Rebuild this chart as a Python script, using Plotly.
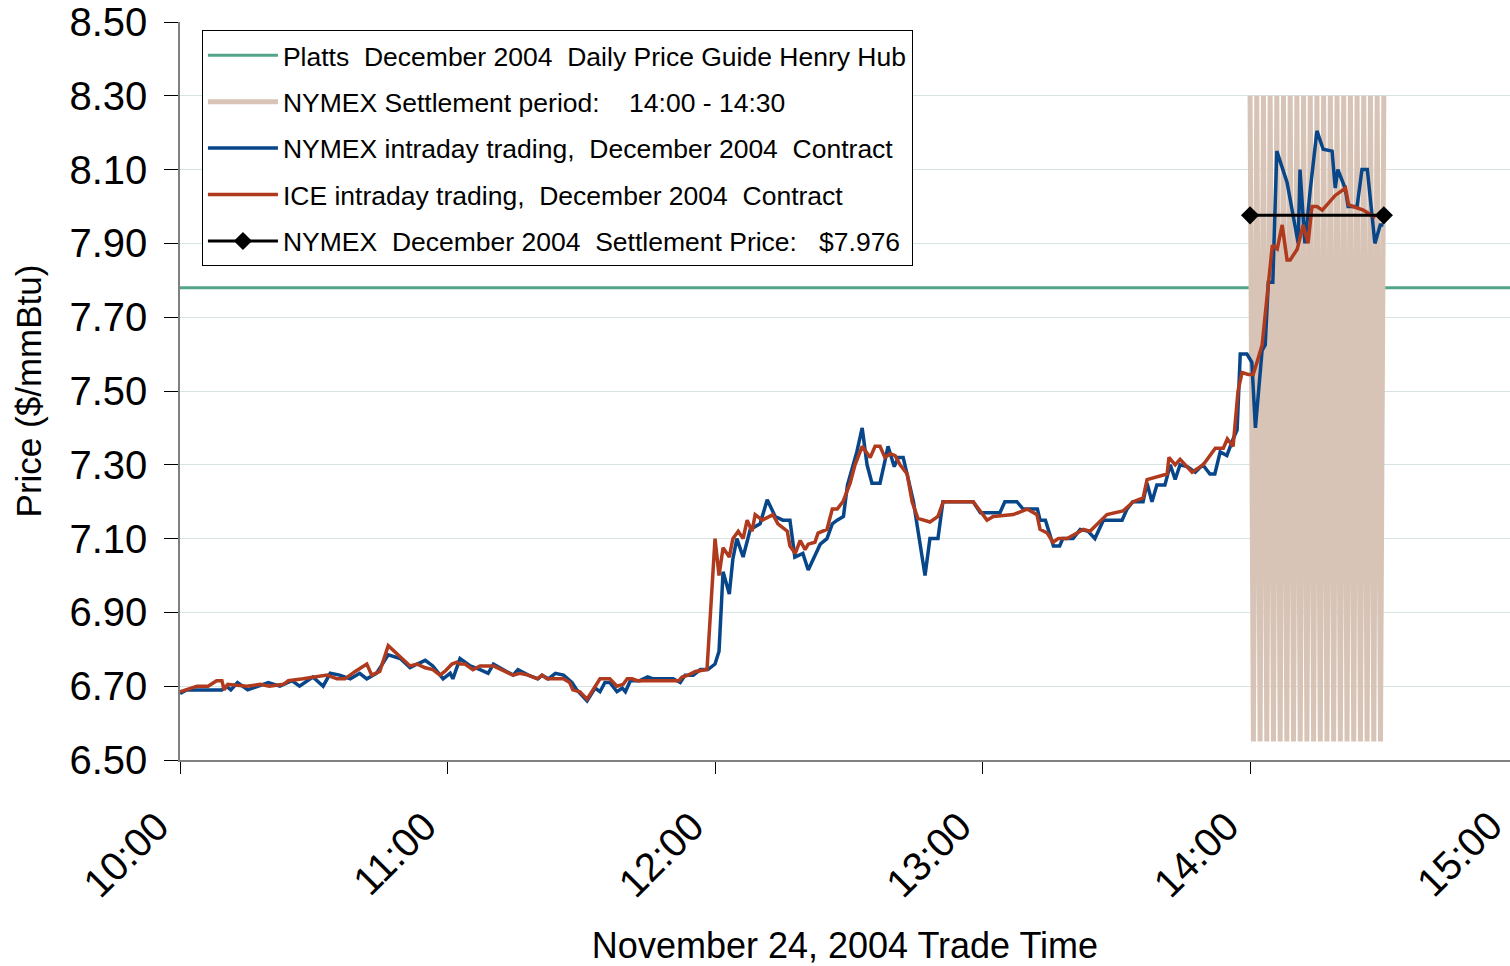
import plotly.graph_objects as go

FONT = "Arial, 'Liberation Sans', sans-serif"

# x values are minutes after 10:00 on November 24, 2004
tick_minutes = [0, 60, 120, 180, 240, 300]
tick_labels = ["10:00", "11:00", "12:00", "13:00", "14:00", "15:00"]
y_ticks = [6.50, 6.70, 6.90, 7.10, 7.30, 7.50, 7.70, 7.90, 8.10, 8.30, 8.50]

platts_times = [0, 300]
platts_price = [7.78, 7.78]

settle_period_times = [240.0, 240.75, 241.5, 242.25, 243.0, 243.75, 244.5, 245.25, 246.0, 246.75,
                       247.5, 248.25, 249.0, 249.75, 250.5, 251.25, 252.0, 252.75, 253.5, 254.25,
                       255.0, 255.75, 256.5, 257.25, 258.0, 258.75, 259.5, 260.25, 261.0, 261.75,
                       262.5, 263.25, 264.0, 264.75, 265.5, 266.25, 267.0, 267.75, 268.5, 269.25, 270.0]
settle_period_price = [8.30, 6.55, 8.30, 6.55, 8.30, 6.55, 8.30, 6.55, 8.30, 6.55,
                       8.30, 6.55, 8.30, 6.55, 8.30, 6.55, 8.30, 6.55, 8.30, 6.55,
                       8.30, 6.55, 8.30, 6.55, 8.30, 6.55, 8.30, 6.55, 8.30, 6.55,
                       8.30, 6.55, 8.30, 6.55, 8.30, 6.55, 8.30, 6.55, 8.30, 6.55, 8.30]

nymex_times = [0, 1.5, 9.4, 10.4, 11.4, 12.9, 15.2, 17.3, 19.8, 22.4,
               25.1, 26.8, 29.8, 32.1, 33.7, 35.8, 38.2, 40.3, 41.9, 44.1,
               46.7, 49.4, 51.6, 53.2, 55.0, 56.7, 59.0, 60.6, 61.2, 62.8,
               65.1, 67.3, 69.1, 70.3, 72.4, 74.7, 75.8, 78.1, 80.3, 81.2,
               82.6, 84.2, 86.0, 87.9, 89.0, 91.3, 93.1, 94.2, 95.3, 96.4,
               98.0, 99.2, 99.9, 101.0, 103.1, 104.9, 106.1, 110.6, 112.2, 113.3,
               115.1, 116.7, 118.4, 120.0, 120.9, 121.8, 123.2, 124.0, 124.9, 126.3,
               127.9, 130.1, 131.7, 133.5, 135.2, 136.8, 137.9, 139.7, 140.9, 143.6,
               145.1, 146.3, 147.4, 148.8, 149.7, 151.8, 153.0, 154.1, 155.2, 157.0,
               158.1, 158.8, 160.2, 161.1, 162.2, 163.1, 164.5, 167.1, 168.2, 170.0,
               171.1, 177.9, 179.5, 183.9, 185.0, 187.7, 189.1, 192.3, 192.9, 194.1,
               195.9, 197.3, 198.0, 200.3, 201.9, 203.7, 205.2, 207.1, 211.3, 212.4,
               213.7, 216.0, 216.9, 218.0, 219.1, 220.9, 222.1, 223.2, 224.3, 225.9,
               227.7, 229.4, 231.0, 232.1, 233.3, 234.8, 235.5, 236.2, 237.1, 237.8,
               239.3, 240.4, 241.2, 242.7, 243.4, 244.1, 245.1, 246.0, 248.3, 249.4,
               250.8, 251.2, 252.3, 253.5, 255.0, 256.4, 258.4, 259.1, 259.7, 261.3,
               262.0, 264.0, 265.1, 266.3, 268.0, 269.2, 269.9]
nymex_price = [6.68, 6.69, 6.69, 6.70, 6.69, 6.71, 6.69, 6.70, 6.71, 6.70,
               6.715, 6.70, 6.725, 6.70, 6.735, 6.73, 6.72, 6.735, 6.72, 6.735,
               6.785, 6.775, 6.75, 6.76, 6.77, 6.755, 6.72, 6.735, 6.72, 6.775,
               6.755, 6.745, 6.735, 6.76, 6.745, 6.73, 6.745, 6.73, 6.72, 6.73,
               6.72, 6.735, 6.73, 6.71, 6.69, 6.66, 6.695, 6.685, 6.71, 6.71,
               6.685, 6.695, 6.685, 6.715, 6.715, 6.725, 6.72, 6.72, 6.71, 6.73,
               6.73, 6.745, 6.745, 6.76, 6.795, 7.01, 6.95, 7.045, 7.10, 7.05,
               7.125, 7.14, 7.205, 7.16, 7.15, 7.15, 7.05, 7.06, 7.015, 7.085,
               7.10, 7.14, 7.15, 7.16, 7.245, 7.335, 7.40, 7.30, 7.25, 7.25,
               7.31, 7.35, 7.295, 7.32, 7.32, 7.275, 7.20, 7.00, 7.10, 7.10,
               7.20, 7.20, 7.17, 7.17, 7.20, 7.20, 7.18, 7.18, 7.15, 7.15,
               7.08, 7.08, 7.10, 7.10, 7.125, 7.12, 7.10, 7.15, 7.15, 7.18,
               7.20, 7.20, 7.25, 7.20, 7.245, 7.245, 7.30, 7.26, 7.30, 7.295,
               7.28, 7.30, 7.275, 7.275, 7.335, 7.325, 7.35, 7.37, 7.395, 7.60,
               7.60, 7.578, 7.40, 7.61, 7.625, 7.795, 7.795, 8.15, 8.065, 7.99,
               7.90, 8.10, 7.90, 8.045, 8.205, 8.155, 8.15, 8.05, 8.10, 8.05,
               8.00, 8.00, 8.10, 8.10, 7.90, 7.95, 7.95]

ice_times = [0, 3.8, 6.3, 8.2, 9.4, 9.9, 10.7, 15.0, 18.0, 20.0,
             23.2, 24.3, 27.6, 30.7, 33.0, 35.2, 37.0, 39.3, 41.9, 43.0,
             44.8, 46.7, 49.4, 51.6, 53.2, 55.0, 56.7, 58.3, 59.4, 61.0,
             62.1, 62.8, 63.9, 65.7, 67.3, 70.3, 72.9, 74.7, 76.2, 78.1,
             80.1, 81.2, 82.3, 86.0, 87.4, 88.1, 89.7, 91.3, 94.2, 96.4,
             98.0, 99.4, 100.3, 101.4, 102.6, 110.6, 111.9, 112.6, 114.0, 115.6,
             118.2, 120.0, 120.9, 121.8, 123.2, 124.0, 125.2, 126.3, 127.2, 128.3,
             129.0, 130.6, 133.0, 134.1, 136.2, 136.8, 138.0, 139.1, 140.2, 140.9,
             142.4, 143.1, 145.1, 146.3, 147.4, 148.7, 150.3, 151.4, 153.0, 154.8,
             155.9, 157.0, 158.1, 159.3, 160.4, 161.5, 163.1, 164.2, 165.5, 168.2,
             170.0, 171.2, 177.9, 181.0, 182.4, 186.9, 190.0, 192.2, 192.9, 194.5,
             195.8, 197.0, 199.0, 201.9, 202.6, 204.1, 207.9, 211.5, 213.8, 216.0,
             216.9, 221.4, 221.8, 223.2, 224.3, 227.0, 229.5, 232.2, 234.0, 234.9,
             236.2, 237.3, 238.2, 239.6, 240.7, 241.6, 242.7, 245.0, 246.1, 247.2,
             248.3, 249.0, 250.6, 251.9, 253.0, 253.9, 255.0, 256.2, 259.1, 261.4,
             262.1, 263.1, 265.4, 268.1]
ice_price = [6.685, 6.70, 6.70, 6.715, 6.715, 6.69, 6.705, 6.70, 6.705, 6.70,
             6.705, 6.715, 6.72, 6.725, 6.73, 6.72, 6.72, 6.74, 6.76, 6.73,
             6.74, 6.81, 6.78, 6.755, 6.76, 6.75, 6.745, 6.73, 6.74, 6.76,
             6.765, 6.76, 6.76, 6.745, 6.755, 6.755, 6.74, 6.73, 6.735, 6.73,
             6.72, 6.73, 6.72, 6.72, 6.71, 6.69, 6.685, 6.665, 6.72, 6.72,
             6.70, 6.705, 6.72, 6.72, 6.715, 6.715, 6.715, 6.725, 6.73, 6.74,
             6.745, 7.10, 7.00, 7.075, 7.05, 7.10, 7.12, 7.10, 7.15, 7.12,
             7.165, 7.15, 7.165, 7.14, 7.12, 7.08, 7.06, 7.095, 7.07, 7.085,
             7.09, 7.115, 7.125, 7.18, 7.18, 7.20, 7.25, 7.30, 7.35, 7.32,
             7.35, 7.35, 7.32, 7.33, 7.325, 7.30, 7.275, 7.20, 7.155, 7.145,
             7.16, 7.20, 7.20, 7.15, 7.16, 7.165, 7.18, 7.165, 7.125, 7.115,
             7.09, 7.10, 7.10, 7.12, 7.125, 7.12, 7.165, 7.175, 7.20, 7.21,
             7.26, 7.275, 7.32, 7.30, 7.315, 7.28, 7.30, 7.345, 7.345, 7.37,
             7.35, 7.50, 7.55, 7.545, 7.545, 7.58, 7.625, 7.895, 7.885, 7.95,
             7.855, 7.855, 7.885, 7.95, 7.90, 8.00, 8.00, 7.99, 8.03, 8.05,
             8.005, 8.00, 7.99, 7.97]

settle_times = [240, 270]
settle_price = [7.976, 7.976]

assert len(nymex_times) == len(nymex_price)
assert len(ice_times) == len(ice_price)
assert len(settle_period_times) == len(settle_period_price)

NB = "\u00a0"
names = [
    "Platts" + NB + " December 2004" + NB + " Daily Price Guide Henry Hub",
    "NYMEX Settlement period:" + NB * 3 + " 14:00 - 14:30",
    "NYMEX intraday trading," + NB + " December 2004" + NB + " Contract",
    "ICE intraday trading," + NB + " December 2004" + NB + " Contract",
    "NYMEX" + NB + " December 2004" + NB + " Settlement Price:" + NB * 2 + " $7.976",
]

fig = go.Figure()
fig.add_trace(go.Scatter(x=platts_times, y=platts_price, mode="lines", name=names[0],
                         legendgroup="a", line=dict(color="#52a587", width=3)))
fig.add_trace(go.Scatter(x=settle_period_times, y=settle_period_price, mode="lines", name=names[1],
                         legendgroup="b", line=dict(color="#d8c4b6", width=5)))
fig.add_trace(go.Scatter(x=nymex_times, y=nymex_price, mode="lines", name=names[2],
                         legendgroup="c", line=dict(color="#08468a", width=3.5)))
fig.add_trace(go.Scatter(x=ice_times, y=ice_price, mode="lines", name=names[3],
                         legendgroup="d", line=dict(color="#b03a1e", width=3.5)))
fig.add_trace(go.Scatter(x=settle_times, y=settle_price, mode="lines+markers", name=names[4],
                         legendgroup="e", line=dict(color="black", width=3),
                         marker=dict(symbol="diamond", size=14, color="black")))

# the 15:00 tick sits just beyond the right edge of the picture; its label is still shown
fig.add_annotation(x=0.9615, y=-0.1267, xref="paper", yref="paper", text=tick_labels[-1],
                   textangle=-45, showarrow=False, xanchor="center", yanchor="middle",
                   font=dict(size=40, family=FONT, color="black"))

fig.update_layout(
    width=1510, height=966,
    margin=dict(l=180, r=0, t=19, b=205),
    paper_bgcolor="white", plot_bgcolor="white",
    font=dict(family=FONT, color="black"),
    showlegend=True,
    legend=dict(x=0.0165, y=0.9885, xanchor="left", yanchor="top",
                bgcolor="white", bordercolor="black", borderwidth=1,
                font=dict(family=FONT, size=26.5, color="black"),
                tracegroupgap=9, itemwidth=70, traceorder="grouped"),
    xaxis=dict(range=[0, 298.3], tickmode="array", tickvals=tick_minutes, ticktext=tick_labels,
               tickangle=-45, tickfont=dict(size=40, family=FONT, color="black"),
               ticks="outside", ticklen=12, tickcolor="black", tickwidth=1,
               ticklabelshift=-23, ticklabelstandoff=13,
               showline=True, linecolor="#808080", linewidth=1.5, showgrid=False, zeroline=False,
               title=dict(text="November 24, 2004 Trade Time", font=dict(size=36, family=FONT),
                          standoff=35)),
    yaxis=dict(range=[6.5, 8.5], tickmode="array", tickvals=y_ticks,
               ticktext=["%.2f" % v for v in y_ticks], ticklabeloverflow="allow",
               tickfont=dict(size=40, family=FONT, color="black"),
               ticks="outside", ticklen=14, tickcolor="black", tickwidth=1, ticklabelstandoff=9,
               showline=True, linecolor="#808080", linewidth=1.5,
               showgrid=True, gridcolor="#d6e3e3", gridwidth=1, zeroline=False,
               title=dict(text="Price ($/mmBtu)", font=dict(size=35, family=FONT), standoff=17)),
)

fig.write_html("out.html", config={"displayModeBar": False},
               post_script="document.body.style.margin='0px';")
